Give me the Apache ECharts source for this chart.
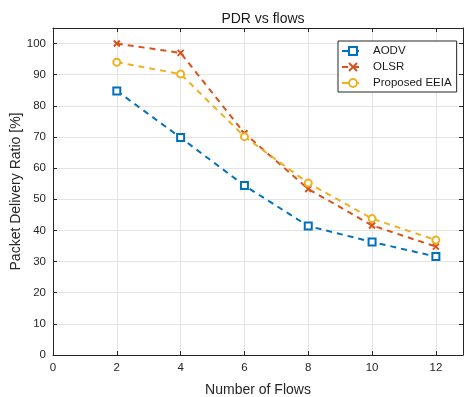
<!DOCTYPE html>
<html>
<head>
<meta charset="utf-8">
<script src="https://cdn.jsdelivr.net/npm/echarts@6/dist/echarts.min.js"></script>
<style>
  html, body { margin: 0; padding: 0; background: #fff; overflow: hidden; }
  #chart { width: 465px; height: 397px; }
</style>
</head>
<body>
<div id="chart"></div>
<script>
const flows = [2, 4, 6, 8, 10, 12];
const aodv = [84.8, 69.8, 54.4, 41.4, 36.3, 31.6];
const olsr = [100.0, 97.0, 71.2, 53.3, 41.6, 34.8];
const eeia = [94.0, 90.2, 70.1, 55.2, 43.8, 36.9];
const seriesNames = ['AODV', 'OLSR', 'Proposed EEIA'];

const font = 'Liberation Sans, Arial, sans-serif';
const axisColor = '#262626';
const crossPath = 'path://M0,0L10,10M10,0L0,10';

function pairs(values) {
  return flows.map((f, i) => [f, values[i]]);
}

function makeSeries(name, values, color, symbol) {
  return {
    name: name,
    type: 'line',
    data: pairs(values),
    symbol: symbol,
    symbolSize: symbol === crossPath ? 6 : 7,
    lineStyle: { color: color, width: 2, type: [6, 5] },
    itemStyle: { color: symbol === crossPath ? color : '#fff', borderColor: color, borderWidth: 2 },
    emphasis: { disabled: true },
    animation: false,
  };
}

const chart = echarts.init(document.getElementById('chart'));
const hiddenAxis = {
  axisLabel: { show: false },
  splitLine: { show: false },
  axisLine: { show: true, onZero: false, lineStyle: { color: axisColor, width: 1 } },
  axisTick: { show: true, inside: true, length: 4, lineStyle: { color: axisColor } },
};

chart.setOption({
  color: ['#0072BD', '#D95319', '#EDB120'],
  title: {
    text: 'PDR vs flows',
    left: 258,
    textAlign: 'center',
    top: 7,
    textStyle: { fontFamily: font, fontSize: 14, fontWeight: 'normal', color: '#1a1a1a' },
  },
  legend: {
    data: seriesNames,
    orient: 'vertical',
    left: 338,
    top: 41,
    padding: [4, 5, 3, 3],
    itemGap: 4,
    itemWidth: 22,
    itemHeight: 10,
    backgroundColor: '#fff',
    borderColor: '#262626',
    borderWidth: 1,
    borderRadius: 0,
    textStyle: { fontFamily: font, fontSize: 11.5, color: '#1a1a1a', padding: [0, 0, 0, 4] },
  },
  grid: { left: 53, right: 2, top: 28, bottom: 42, containLabel: false, outerBoundsMode: 'none' },
  xAxis: [
    {
      type: 'value',
      min: 0,
      max: 12.85,
      interval: 2,
      name: 'Number of Flows',
      nameLocation: 'middle',
      nameGap: 28,
      nameMoveOverlap: false,
      nameTextStyle: { fontFamily: font, fontSize: 14, color: '#262626' },
      axisLabel: { fontFamily: font, fontSize: 11.5, color: axisColor, margin: 7, showMaxLabel: false },
      axisLine: { onZero: false, lineStyle: { color: axisColor, width: 1 } },
      axisTick: { inside: true, length: 4, lineStyle: { color: axisColor } },
      splitLine: { show: true, lineStyle: { color: '#e3e3e3', width: 1 } },
    },
    Object.assign({ type: 'value', position: 'top', min: 0, max: 12.85, interval: 2 }, hiddenAxis),
  ],
  yAxis: [
    {
      type: 'value',
      min: 0,
      max: 105,
      interval: 10,
      name: 'Packet Delivery Ratio [%]',
      nameLocation: 'middle',
      nameGap: 30,
      nameMoveOverlap: false,
      nameTextStyle: { fontFamily: font, fontSize: 14, color: '#262626' },
      axisLabel: { fontFamily: font, fontSize: 11.5, color: axisColor, margin: 7, showMaxLabel: false },
      axisLine: { show: true, onZero: false, lineStyle: { color: axisColor, width: 1 } },
      axisTick: { show: true, inside: true, length: 4, lineStyle: { color: axisColor } },
      splitLine: { show: true, lineStyle: { color: '#e3e3e3', width: 1 } },
    },
    Object.assign({ type: 'value', position: 'right', min: 0, max: 105, interval: 10 }, hiddenAxis),
  ],
  series: [
    makeSeries('AODV', aodv, '#0072BD', 'rect'),
    makeSeries('OLSR', olsr, '#D95319', crossPath),
    makeSeries('Proposed EEIA', eeia, '#EDB120', 'circle'),
  ],
});
</script>
</body>
</html>
